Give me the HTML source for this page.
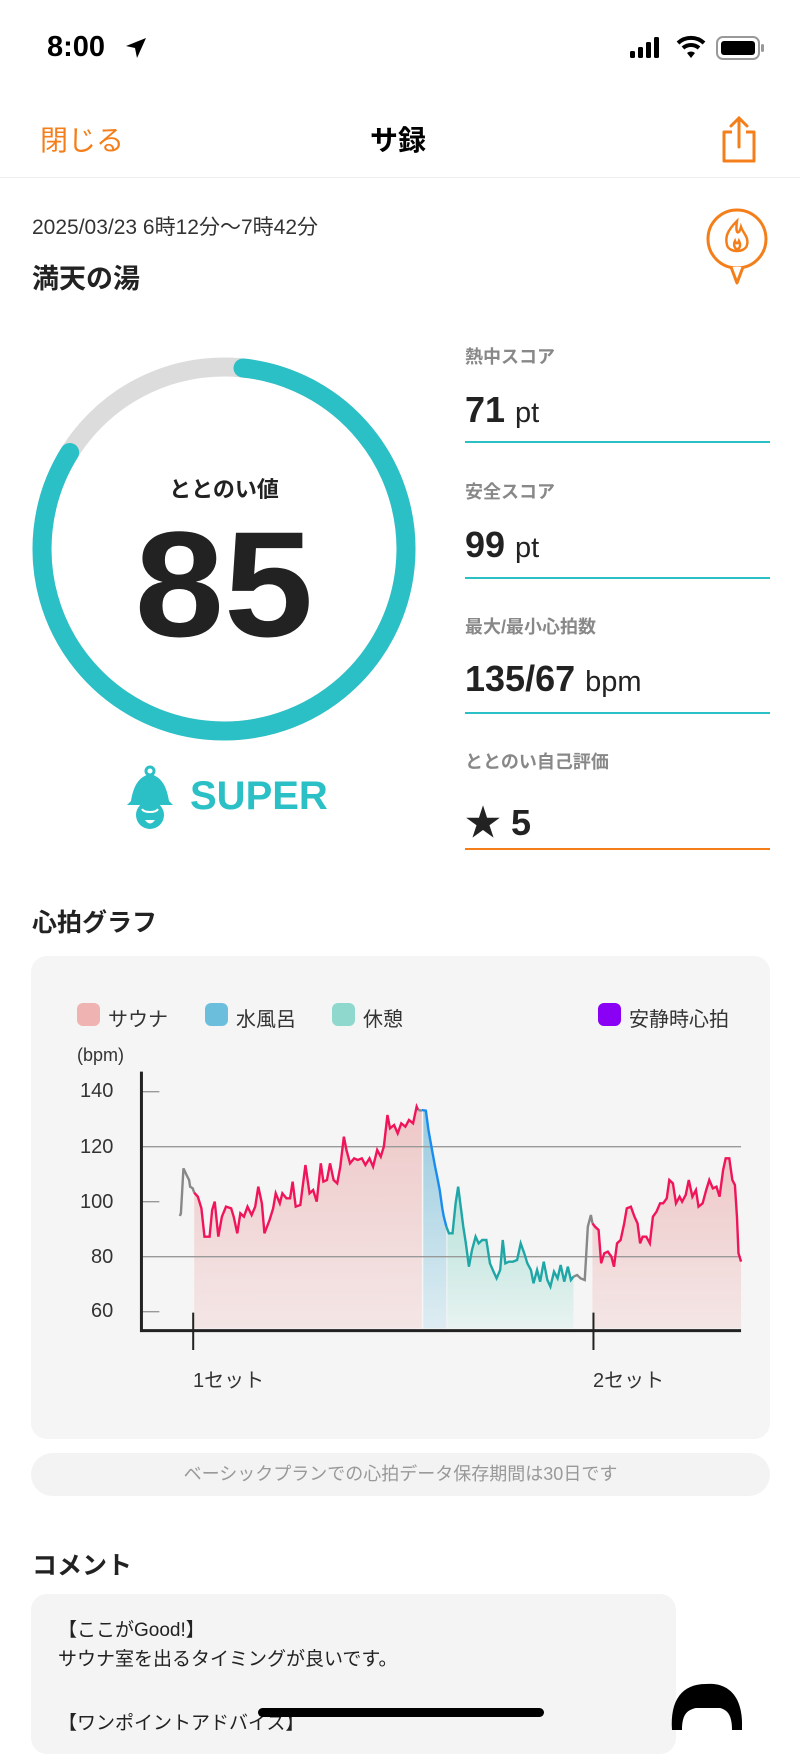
<!DOCTYPE html>
<html><head><meta charset="utf-8">
<style>
*{margin:0;padding:0;box-sizing:border-box}
body{width:800px;height:1730px;background:#fff;position:relative;overflow:hidden;font-family:"Liberation Sans","Noto Sans CJK JP",sans-serif;color:#222}
.a{position:absolute;white-space:nowrap}
.lbl{font-size:18px;color:#888;font-weight:bold}
.val{font-size:36px;font-weight:bold;color:#222}
.val span{font-size:29px;font-weight:normal}
.line{position:absolute;left:465px;width:305px;height:2px;background:#2bbfc6}
</style></head><body>
<!-- status bar -->
<div class="a" style="left:47px;top:31px;font-size:29px;font-weight:bold;color:#000">8:00</div>
<svg class="a" style="left:124px;top:36px" width="24" height="24" viewBox="0 0 24 24"><path d="M22 2 L2 10 L11 12 L13 22 Z" fill="#000"/></svg>
<svg class="a" style="left:630px;top:37px" width="40" height="22"><rect x="0" y="14" width="5" height="7" rx="1.5"/><rect x="8" y="10" width="5" height="11" rx="1.5"/><rect x="16" y="5" width="5" height="16" rx="1.5"/><rect x="24" y="0" width="5" height="21" rx="1.5"/></svg>
<svg class="a" style="left:676px;top:35px" width="30" height="24" viewBox="0 0 30 24"><path d="M2 8 A19 19 0 0 1 28 8" stroke="#000" stroke-width="4" fill="none"/><path d="M7 13 A12 12 0 0 1 23 13" stroke="#000" stroke-width="4" fill="none"/><path d="M11 18 L15 23 L19 18 A6 6 0 0 0 11 18Z" fill="#000"/></svg>
<svg class="a" style="left:716px;top:36px" width="50" height="26"><rect x="1" y="1" width="42" height="22" rx="6" fill="none" stroke="#999" stroke-width="2"/><rect x="5" y="5" width="34" height="14" rx="3" fill="#000"/><rect x="45" y="8" width="3" height="8" rx="1.5" fill="#999"/></svg>
<!-- nav -->
<div class="a" style="left:40px;top:119px;font-size:28px;color:#f47f1a">閉じる</div>
<div class="a" style="left:370px;top:119px;font-size:28px;font-weight:bold;color:#000">サ録</div>
<svg class="a" style="left:718px;top:115px" width="42" height="50" viewBox="0 0 42 50"><path d="M14 17 H6 V46 H36 V17 H28" fill="none" stroke="#f47f1a" stroke-width="3" stroke-linejoin="round"/><path d="M21 32 V3 M13 11 L21 3 L29 11" fill="none" stroke="#f47f1a" stroke-width="3" stroke-linecap="round"/></svg>
<div class="a" style="left:0;top:177px;width:800px;height:1px;background:#eee"></div>
<!-- header -->
<div class="a" style="left:32px;top:211px;font-size:21px;color:#333">2025/03/23 6時12分〜7時42分</div>
<div class="a" style="left:32px;top:257px;font-size:27px;font-weight:bold">満天の湯</div>
<svg class="a" style="left:705px;top:207px" width="64" height="78" viewBox="0 0 64 78"><circle cx="32" cy="32" r="29" fill="none" stroke="#f47f1a" stroke-width="3"/><path d="M26 60 L32 76 L38 60" fill="#fff" stroke="#f47f1a" stroke-width="3" stroke-linejoin="round"/><path d="M32 14 C22 24 20 30 22 38 C24 46 40 46 42 38 C44 30 38 26 36 20 C34 28 30 28 32 14Z M30 34 C28 38 30 42 32 42 C35 42 36 38 34 34 C33 37 31 37 30 34Z" fill="none" stroke="#f47f1a" stroke-width="2.5"/></svg>
<!-- ring -->
<svg class="a" style="left:0;top:330px" width="450" height="440">
<circle cx="224" cy="219" r="182" fill="none" stroke="#dcdcdc" stroke-width="19"/>
<circle cx="224" cy="219" r="182" fill="none" stroke="#2bbfc6" stroke-width="19" stroke-linecap="round" stroke-dasharray="940 400" transform="rotate(-84 224 219)"/>
</svg>
<div class="a" style="left:124px;top:472px;width:200px;text-align:center;font-size:22px;font-weight:bold">ととのい値</div>
<div class="a" style="left:74px;top:504px;width:300px;text-align:center;font-size:150px;font-weight:bold;line-height:160px;color:#222;transform:scaleX(1.07)">85</div>
<svg class="a" style="left:125px;top:765px" width="50" height="66" viewBox="0 0 50 66"><circle cx="25" cy="6" r="4" fill="none" stroke="#2bbfc6" stroke-width="3"/><path d="M25 9 C12 12 8 24 6 36 L2 40 L48 40 L44 36 C42 24 38 12 25 9Z" fill="#2bbfc6"/><circle cx="25" cy="50" r="14" fill="#2bbfc6"/><path d="M17 44 C19 48 31 48 33 44" stroke="#fff" stroke-width="2" fill="none"/><path d="M20 55 Q25 62 30 55Z" fill="#fff"/></svg>
<div class="a" style="left:190px;top:774px;font-size:40px;font-weight:bold;color:#2bbfc6">SUPER</div>
<!-- scores -->
<div class="a lbl" style="left:465px;top:343px">熱中スコア</div>
<div class="a val" style="left:465px;top:389px">71 <span>pt</span></div>
<div class="line" style="top:441px"></div>
<div class="a lbl" style="left:465px;top:478px">安全スコア</div>
<div class="a val" style="left:465px;top:524px">99 <span>pt</span></div>
<div class="line" style="top:577px"></div>
<div class="a lbl" style="left:465px;top:613px">最大/最小心拍数</div>
<div class="a val" style="left:465px;top:658px">135/67 <span>bpm</span></div>
<div class="line" style="top:712px"></div>
<div class="a lbl" style="left:465px;top:748px">ととのい自己評価</div>
<div class="a val" style="left:465px;top:794px">★ 5</div>
<div class="line" style="top:848px;background:#f47f1a"></div>
<!-- graph -->
<div class="a" style="left:32px;top:903px;font-size:25px;font-weight:bold">心拍グラフ</div>
<div class="a" style="left:31px;top:956px;width:739px;height:483px;background:#f5f5f5;border-radius:16px"></div>
<div class="a" style="left:77px;top:1003px;width:23px;height:23px;border-radius:6px;background:#efb3b1"></div>
<div class="a" style="left:108px;top:1003px;font-size:20px;color:#333">サウナ</div>
<div class="a" style="left:205px;top:1003px;width:23px;height:23px;border-radius:6px;background:#6bbfdc"></div>
<div class="a" style="left:236px;top:1003px;font-size:20px;color:#333">水風呂</div>
<div class="a" style="left:332px;top:1003px;width:23px;height:23px;border-radius:6px;background:#8ed8cd"></div>
<div class="a" style="left:363px;top:1003px;font-size:20px;color:#333">休憩</div>
<div class="a" style="left:598px;top:1003px;width:23px;height:23px;border-radius:6px;background:#8a00f5"></div>
<div class="a" style="left:629px;top:1003px;font-size:20px;color:#333">安静時心拍</div>
<div class="a" style="left:77px;top:1045px;font-size:18px;color:#333">(bpm)</div>
<div class="a" style="left:80px;top:1080px;font-size:20px;color:#333">140</div>
<div class="a" style="left:80px;top:1136px;font-size:20px;color:#333">120</div>
<div class="a" style="left:80px;top:1191px;font-size:20px;color:#333">100</div>
<div class="a" style="left:91px;top:1246px;font-size:20px;color:#333">80</div>
<div class="a" style="left:91px;top:1300px;font-size:20px;color:#333">60</div>
<div class="a" style="left:193px;top:1364px;font-size:20px;color:#333">1セット</div>
<div class="a" style="left:593px;top:1364px;font-size:20px;color:#333">2セット</div>
<svg class="a" style="left:0;top:0" width="800" height="1730">
<defs>
<linearGradient id="gp" x1="0" y1="0" x2="0" y2="1"><stop offset="0" stop-color="#e9a8a8" stop-opacity=".6"/><stop offset="1" stop-color="#f3d6d6" stop-opacity=".5"/></linearGradient>
<linearGradient id="gb" x1="0" y1="0" x2="0" y2="1"><stop offset="0" stop-color="#5aaed0" stop-opacity=".6"/><stop offset="1" stop-color="#cfe7f0" stop-opacity=".6"/></linearGradient>
<linearGradient id="gt" x1="0" y1="0" x2="0" y2="1"><stop offset="0" stop-color="#7ccfc0" stop-opacity=".5"/><stop offset="1" stop-color="#e0f2ee" stop-opacity=".6"/></linearGradient>
</defs>
<g transform="translate(0.5,950) scale(0.5125,0.33333)" fill="none">
<path d="M378 728 L385 740 392 775 398 860 408 860 413 780 418 755 425 860 432 800 440 770 450 775 455 800 462 850 468 790 475 800 482 770 490 795 497 770 503 710 510 760 515 850 525 810 532 775 537 730 545 760 550 730 558 745 565 745 570 695 576 770 585 765 595 645 603 730 610 720 617 755 625 640 630 695 637 690 643 640 650 690 657 700 663 650 670 560 675 600 682 640 690 625 697 630 705 625 712 645 720 625 727 650 735 600 742 620 748 590 755 495 760 535 768 525 775 550 782 520 790 530 797 510 805 520 812 470 815 480 L822 482 L822 1135 L378 1135Z" fill="url(#gp)"/>
<path d="M825 480 L830 482 835 540 842 600 848 650 852 680 857 720 862 775 865 800 870 830 L870 1135 L825 1135Z" fill="url(#gb)"/>
<path d="M872 835 L875 850 882 850 888 760 893 710 898 770 903 830 908 880 914 950 920 900 927 860 933 880 940 870 948 870 955 940 962 965 968 985 975 960 980 870 985 940 992 935 1000 935 1008 930 1015 880 1022 910 1028 940 1035 960 1040 1000 1047 960 1053 995 1060 935 1067 990 1073 1010 1080 965 1087 985 1093 945 1100 995 1107 950 1113 990 1118 980 L1118 1135 L872 1135Z" fill="url(#gt)"/>
<path d="M1155 820 L1160 830 1167 840 1172 940 1178 910 1185 905 1192 920 1197 950 1203 880 1210 870 1217 820 1222 775 1230 770 1237 800 1243 820 1248 880 1253 860 1260 860 1267 880 1273 800 1280 785 1287 760 1293 760 1300 745 1305 690 1312 700 1318 760 1325 740 1330 755 1337 735 1343 690 1350 740 1357 720 1362 770 1370 760 1377 720 1383 690 1390 715 1397 710 1403 740 1410 660 1415 625 1422 625 1428 690 1433 705 1437 800 1440 910 1445 935 L1445 1135 L1155 1135Z" fill="url(#gp)"/>
<path d="M275 590 H1445 M275 920 H1445" stroke="#999" stroke-width="1.3" vector-effect="non-scaling-stroke"/>
<path d="M275 425 H310 M275 755 H310 M275 1085 H310" stroke="#999" stroke-width="1.3" vector-effect="non-scaling-stroke"/>
<path d="M376 1088 V1200 M1157 1088 V1200" stroke="#222" stroke-width="2" vector-effect="non-scaling-stroke"/>
<path d="M350 798 L352 790 357 655 363 675 368 690 370 710 375 715 378 728" stroke="#888" stroke-width="2.4" vector-effect="non-scaling-stroke"/>
<path d="M378 728 L385 740 392 775 398 860 408 860 413 780 418 755 425 860 432 800 440 770 450 775 455 800 462 850 468 790 475 800 482 770 490 795 497 770 503 710 510 760 515 850 525 810 532 775 537 730 545 760 550 730 558 745 565 745 570 695 576 770 585 765 595 645 603 730 610 720 617 755 625 640 630 695 637 690 643 640 650 690 657 700 663 650 670 560 675 600 682 640 690 625 697 630 705 625 712 645 720 625 727 650 735 600 742 620 748 590 755 495 760 535 768 525 775 550 782 520 790 530 797 510 805 520 812 470 815 480" stroke="#f0145a" stroke-width="2.4" vector-effect="non-scaling-stroke"/>
<path d="M815 480 L822 482" stroke="#888" stroke-width="2.4" vector-effect="non-scaling-stroke"/>
<path d="M822 480 L830 482 835 540 842 600 848 650 852 680 857 720 862 775 865 800 870 830" stroke="#1a8cf0" stroke-width="2.4" vector-effect="non-scaling-stroke"/>
<path d="M870 830 L875 850 882 850 888 760 893 710 898 770 903 830 908 880 914 950 920 900 927 860 933 880 940 870 948 870 955 940 962 965 968 985 975 960 980 870 985 940 992 935 1000 935 1008 930 1015 880 1022 910 1028 940 1035 960 1040 1000 1047 960 1053 995 1060 935 1067 990 1073 1010 1080 965 1087 985 1093 945 1100 995 1107 950 1113 990 1118 980" stroke="#1fa6a6" stroke-width="2.4" vector-effect="non-scaling-stroke"/>
<path d="M1118 980 L1125 975 1132 985 1140 990 1146 830 1152 795 1155 820" stroke="#888" stroke-width="2.4" vector-effect="non-scaling-stroke"/>
<path d="M1155 820 L1160 830 1167 840 1172 940 1178 910 1185 905 1192 920 1197 950 1203 880 1210 870 1217 820 1222 775 1230 770 1237 800 1243 820 1248 880 1253 860 1260 860 1267 880 1273 800 1280 785 1287 760 1293 760 1300 745 1305 690 1312 700 1318 760 1325 740 1330 755 1337 735 1343 690 1350 740 1357 720 1362 770 1370 760 1377 720 1383 690 1390 715 1397 710 1403 740 1410 660 1415 625 1422 625 1428 690 1433 705 1437 800 1440 910 1445 935" stroke="#f0145a" stroke-width="2.4" vector-effect="non-scaling-stroke"/>
<path d="M275 365 V1142 H1445" stroke="#222" stroke-width="3" vector-effect="non-scaling-stroke"/>
</g>
</svg>
<!-- info pill -->
<div class="a" style="left:31px;top:1453px;width:739px;height:43px;border-radius:22px;background:#f3f3f3;text-align:center;font-size:18px;line-height:43px;color:#999">ベーシックプランでの心拍データ保存期間は30日です</div>
<div class="a" style="left:32px;top:1546px;font-size:25px;font-weight:bold">コメント</div>
<div class="a" style="left:31px;top:1594px;width:645px;height:160px;border-radius:16px;background:#f4f4f4"></div>
<div class="a" style="left:58px;top:1616px;font-size:19px;line-height:29px;color:#222">【ここがGood!】<br>サウナ室を出るタイミングが良いです。</div>
<div class="a" style="left:58px;top:1709px;font-size:19px;line-height:29px;color:#222">【ワンポイントアドバイス】</div>
<svg class="a" style="left:668px;top:1680px" width="80" height="50" viewBox="0 0 80 50"><path d="M4 50 C2 20 14 4 38 4 C60 2 76 16 74 50 L64 50 C64 36 60 30 52 28 L28 28 C18 30 14 36 14 50Z" fill="#000"/></svg>
<div class="a" style="left:258px;top:1708px;width:286px;height:9px;border-radius:5px;background:#000"></div>
</body></html>
